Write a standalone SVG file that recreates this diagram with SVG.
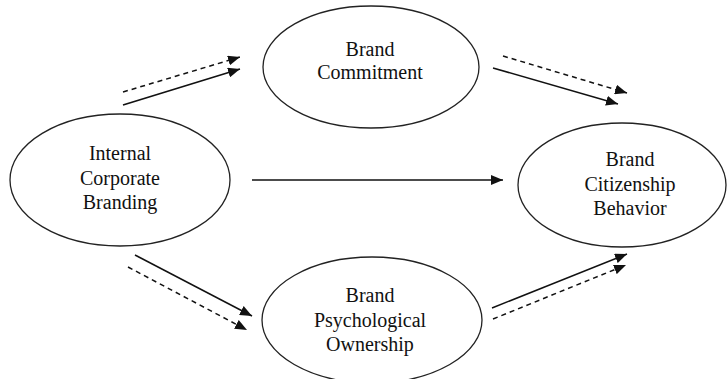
<svg xmlns="http://www.w3.org/2000/svg" width="728" height="379" viewBox="0 0 728 379">
  <style>
    .node ellipse { fill: #ffffff; stroke: #222222; stroke-width: 1.3; }
    .label { font-family: 'Liberation Serif', 'Times New Roman', serif; font-size: 20px; fill: #111111; text-anchor: middle; }
    .edge { stroke: #111111; stroke-width: 1.5; fill: none; marker-end: url(#arrow); }
    .dashed { stroke-dasharray: 5 4; }
  </style>
  <defs>
    <marker id="arrow" viewBox="0 0 12 10" refX="12" refY="5" markerWidth="12" markerHeight="10" markerUnits="userSpaceOnUse" orient="auto">
      <path d="M0,0 L12,5 L0,10 Z" fill="#111111"/>
    </marker>
  </defs>
  <rect width="728" height="379" fill="#ffffff"/>

  <g id="node-icb" class="node">
    <ellipse cx="120" cy="180" rx="110" ry="66"/>
    <text class="label" x="120" y="160">Internal</text>
    <text class="label" x="120" y="185">Corporate</text>
    <text class="label" x="120" y="209">Branding</text>
  </g>

  <g id="node-bc" class="node">
    <ellipse cx="371" cy="67" rx="108" ry="61"/>
    <text class="label" x="370" y="56">Brand</text>
    <text class="label" x="370" y="79">Commitment</text>
  </g>

  <g id="node-bcb" class="node">
    <ellipse cx="622" cy="185" rx="104" ry="62"/>
    <text class="label" x="630" y="166">Brand</text>
    <text class="label" x="630" y="191">Citizenship</text>
    <text class="label" x="630" y="215">Behavior</text>
  </g>

  <g id="node-bpo" class="node">
    <ellipse cx="372" cy="320" rx="110" ry="63"/>
    <text class="label" x="370" y="302">Brand</text>
    <text class="label" x="370" y="327">Psychological</text>
    <text class="label" x="370" y="351">Ownership</text>
  </g>

  <g id="connectors">
    <!-- Internal Corporate Branding -> Brand Commitment -->
    <line class="edge dashed" x1="123" y1="92" x2="240" y2="57"/>
    <line class="edge" x1="123" y1="105" x2="240" y2="69"/>
    <!-- Brand Commitment -> Brand Citizenship Behavior -->
    <line class="edge dashed" x1="503" y1="56" x2="627" y2="93"/>
    <line class="edge" x1="493" y1="68" x2="618" y2="104"/>
    <!-- Internal Corporate Branding -> Brand Citizenship Behavior -->
    <line class="edge" x1="252" y1="180" x2="503" y2="180"/>
    <!-- Internal Corporate Branding -> Brand Psychological Ownership -->
    <line class="edge" x1="135" y1="255" x2="252" y2="316"/>
    <line class="edge dashed" x1="128" y1="267" x2="247" y2="330"/>
    <!-- Brand Psychological Ownership -> Brand Citizenship Behavior -->
    <line class="edge" x1="492" y1="308" x2="627" y2="254"/>
    <line class="edge dashed" x1="493" y1="319" x2="626" y2="265"/>
  </g>
</svg>
